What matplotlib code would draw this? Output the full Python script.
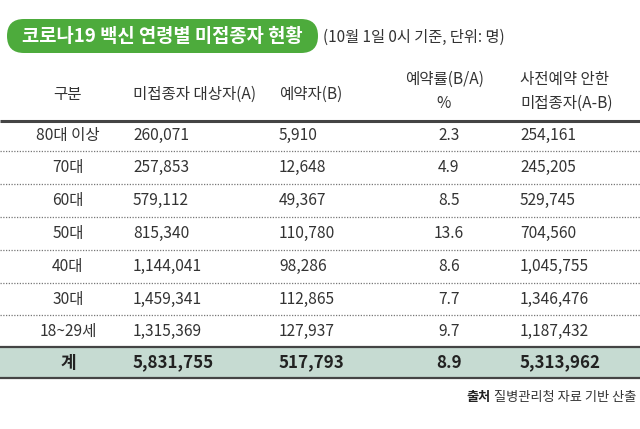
import matplotlib
matplotlib.use("Agg")
import matplotlib.pyplot as plt
from matplotlib.patches import FancyBboxPatch, Rectangle

plt.rcParams['font.family'] = ['Noto Sans CJK KR', 'DejaVu Sans']

title = "코로나19 백신 연령별 미접종자 현황"
subtitle = "(10월 1일 0시 기준, 단위: 명)"
headers = ["구분", "미접종자 대상자(A)", "예약자(B)", "예약률(B/A)\n%", "사전예약 안한\n미접종자(A-B)"]
groups = ["80대 이상", "70대", "60대", "50대", "40대", "30대", "18~29세"]
unvaccinated = ["260,071", "257,853", "579,112", "815,340", "1,144,041", "1,459,341", "1,315,369"]
reserved = ["5,910", "12,648", "49,367", "110,780", "98,286", "112,865", "127,937"]
rate = ["2.3", "4.9", "8.5", "13.6", "8.6", "7.7", "9.7"]
not_reserved = ["254,161", "245,205", "529,745", "704,560", "1,045,755", "1,346,476", "1,187,432"]
total = ["계", "5,831,755", "517,793", "8.9", "5,313,962"]
source_bold = "출처"
source = " 질병관리청 자료 기반 산출"

W, H = 640, 429
fig = plt.figure(figsize=(W / 100, H / 100), dpi=100)
ax = fig.add_axes([0, 0, 1, 1])
ax.set_xlim(0, W)
ax.set_ylim(H, 0)
ax.axis('off')

green = '#4dab3c'
txt = '#333333'
fs = 11.2
lw_txt = 300

# Title pill
ax.add_patch(FancyBboxPatch((7, 19), 311, 34, boxstyle="round,pad=0,rounding_size=17",
                            facecolor=green, edgecolor='none'))
ax.text(162, 37, title, color='white', fontsize=13.5, fontweight='bold', ha='center', va='center')
ax.text(323, 37, subtitle, color=txt, fontsize=11, fontweight=lw_txt, ha='left', va='center')

# column positions
col_ha = ['center', 'left', 'left', 'center', 'left']
num_x = [68, 133, 279, 449, 520]

# headers
ax.text(68, 94, headers[0], color=txt, fontsize=fs, fontweight=lw_txt, ha='center', va='center')
ax.text(133, 94, headers[1], color=txt, fontsize=fs, fontweight=lw_txt, ha='left', va='center')
ax.text(279, 94, headers[2], color=txt, fontsize=fs, fontweight=lw_txt, ha='left', va='center')
h3 = headers[3].split("\n")
ax.text(444, 79, h3[0], color=txt, fontsize=fs, fontweight=lw_txt, ha='center', va='center')
ax.text(444, 103, h3[1], color=txt, fontsize=fs, fontweight=lw_txt, ha='center', va='center')
h4 = headers[4].split("\n")
ax.text(520, 79, h4[0], color=txt, fontsize=fs, fontweight=lw_txt, ha='left', va='center')
ax.text(520, 103, h4[1], color=txt, fontsize=fs, fontweight=lw_txt, ha='left', va='center')

# header rule
ax.plot([0, W], [121, 121], color='#444444', lw=2.2, solid_capstyle='butt')

# rows
y0, dy = 135, 32.8
for i, g in enumerate(groups):
    y = y0 + i * dy
    vals = [g, unvaccinated[i], reserved[i], rate[i], not_reserved[i]]
    for j, v in enumerate(vals):
        ax.text(num_x[j], y, v, color=txt, fontsize=fs, fontweight=lw_txt, ha=col_ha[j], va='center')
    if i < len(groups) - 1:
        ax.plot([0, W], [y + dy / 2, y + dy / 2], color='#777777', lw=0.9,
                linestyle=(0, (1, 1.2)))

# total band
ax.add_patch(Rectangle((0, 347), W, 31, facecolor='#c6dbd2', edgecolor='none'))
ax.plot([0, W], [347, 347], color='#444444', lw=1.6, solid_capstyle='butt')
ax.plot([0, W], [378, 378], color='#444444', lw=1.6, solid_capstyle='butt')
for j, v in enumerate(total):
    ax.text(num_x[j], 362.5, v, color='#222222', fontsize=12.2, fontweight='bold',
            ha=col_ha[j], va='center')

# source
t2 = ax.text(636, 397, source, color=txt, fontsize=9.5, fontweight=lw_txt, ha='right', va='center')
fig.canvas.draw()
bb = t2.get_window_extent()
ax.text(bb.x0, 397, source_bold, color='#222222', fontsize=9.5, fontweight='bold', ha='right', va='center')

fig.savefig('out.png', dpi=100)
